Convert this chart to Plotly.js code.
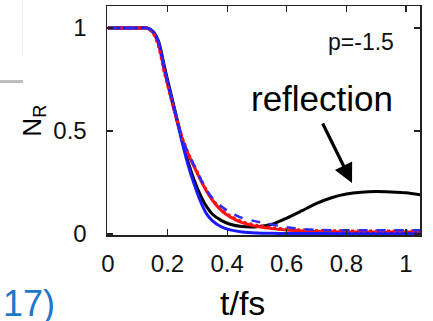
<!DOCTYPE html>
<html>
<head>
<meta charset="utf-8">
<script src="https://cdn.plot.ly/plotly-3.0.1.min.js"></script>
<style>
  html, body { margin: 0; padding: 0; background: #fff; }
  #chart { width: 433px; height: 321px; }
</style>
</head>
<body>
<div id="chart"></div>
<script>
// time axis (fs)
const t = [0, 0.05, 0.1, 0.13, 0.15, 0.17, 0.19, 0.21, 0.23, 0.25, 0.27, 0.29, 0.31, 0.33, 0.35,
           0.38, 0.41, 0.45, 0.5, 0.55, 0.6, 0.65, 0.7, 0.75, 0.8, 0.85, 0.9, 0.95, 1.0, 1.05];

// reflected population N_R for each model
const nBlack = [1, 1, 1, 1, 0.985, 0.935, 0.81, 0.69, 0.57, 0.45, 0.345, 0.26, 0.19, 0.135, 0.097,
                0.066, 0.047, 0.036, 0.035, 0.047, 0.077, 0.112, 0.148, 0.176, 0.194, 0.203, 0.206, 0.204, 0.2, 0.19];
const nBlue  = [1, 1, 1, 1, 0.985, 0.93, 0.8, 0.68, 0.56, 0.44, 0.33, 0.24, 0.16, 0.1, 0.065,
                0.035, 0.02, 0.01, 0.005, 0.003, 0.002, 0.002, 0.002, 0.002, 0.002, 0.002, 0.002, 0.002, 0.002, 0.002];
const nRed   = [1, 1, 1, 1, 0.98, 0.92, 0.79, 0.67, 0.56, 0.46, 0.385, 0.325, 0.265, 0.21, 0.165,
                0.115, 0.083, 0.055, 0.037, 0.026, 0.019, 0.015, 0.012, 0.011, 0.01, 0.01, 0.01, 0.01, 0.01, 0.01];
const nRedDot  = [1, 1, 1, 1, 0.98, 0.91, 0.78, 0.67, 0.56, 0.465, 0.39, 0.33, 0.27, 0.215, 0.17,
                  0.12, 0.088, 0.06, 0.042, 0.031, 0.023, 0.019, 0.017, 0.016, 0.015, 0.015, 0.015, 0.015, 0.015, 0.015];
const nBlueDash = [1, 1, 1, 1, 0.985, 0.93, 0.8, 0.68, 0.57, 0.46, 0.39, 0.33, 0.27, 0.215, 0.175,
                   0.135, 0.105, 0.078, 0.06, 0.046, 0.033, 0.024, 0.02, 0.018, 0.018, 0.018, 0.018, 0.018, 0.018, 0.018];

const xTicks = [0, 0.2, 0.4, 0.6, 0.8, 1];
const xTickText = ['0', '0.2', '0.4', '0.6', '0.8', '1'];
const yTicks = [0, 0.5, 1];
const yTickText = ['0', '0.5', '1'];

const FONT = 'Liberation Sans, Arial, sans-serif';

function line(y, color, width, dash) {
  return { x: t, y: y, type: 'scatter', mode: 'lines',
           line: { color: color, width: width, dash: dash || 'solid', shape: 'spline', smoothing: 0.7 },
           hoverinfo: 'skip', showlegend: false };
}

const traces = [
  line(nBlack, '#000000', 3),
  line(nRed, '#ff1010', 3),
  line(nBlue, '#1a1aff', 3),
  line(nRedDot, '#ff1010', 3, 'dot'),
  line(nBlueDash, '#2a2aff', 2.5, 'dash')
];

const axisCommon = {
  showline: true, linecolor: '#222', linewidth: 1.5, mirror: 'ticks',
  ticks: 'inside', ticklen: 6, tickwidth: 1.2, tickcolor: '#222',
  showgrid: false, zeroline: false,
  tickfont: { family: FONT, size: 24, color: '#111' }
};

const layout = {
  width: 433, height: 321,
  margin: { l: 107, r: 13, t: 6, b: 86 },
  paper_bgcolor: '#fff', plot_bgcolor: '#fff',
  xaxis: Object.assign({}, axisCommon, {
    range: [-0.003, 1.047], tickvals: xTicks, ticktext: xTickText, ticklabelstandoff: 7
  }),
  yaxis: Object.assign({}, axisCommon, {
    range: [-0.005, 1.107], tickvals: yTicks, ticktext: yTickText, ticklabelstandoff: 14
  }),
  annotations: [
    { xref: 'paper', yref: 'paper', x: 0.81, y: 0.842, xanchor: 'center', yanchor: 'middle',
      text: 'p=-1.5', showarrow: false, font: { family: FONT, size: 23, color: '#111' } },
    { xref: 'paper', yref: 'paper', x: 0.686, y: 0.598, xanchor: 'center', yanchor: 'middle',
      text: 'reflection', showarrow: false, font: { family: FONT, size: 35, color: '#000' } },
    { xref: 'x', yref: 'y', axref: 'x', ayref: 'y', x: 0.819, y: 0.248, ax: 0.718, ay: 0.544,
      text: '', showarrow: true, arrowhead: 2, arrowsize: 1.2, arrowwidth: 3.2, arrowcolor: '#000' },
    { xref: 'paper', yref: 'paper', x: -0.236, y: 0.5, xanchor: 'center', yanchor: 'middle',
      text: 'N<sub>R</sub>', textangle: -90, showarrow: false,
      font: { family: FONT, size: 26, color: '#000' } },
    { xref: 'paper', yref: 'paper', x: 0.434, y: -0.296, xanchor: 'center', yanchor: 'middle',
      text: 't/fs', showarrow: false, font: { family: FONT, size: 34, color: '#000' } },
    { xref: 'paper', yref: 'paper', x: -0.16, y: -0.3, xanchor: 'right', yanchor: 'middle',
      text: '17)', showarrow: false, font: { family: FONT, size: 36, color: '#1f78c8' } }
  ],
  shapes: [
    { type: 'line', xref: 'paper', yref: 'paper', x0: -0.345, x1: -0.268, y0: 0.67, y1: 0.67,
      line: { color: '#bdbdbd', width: 3 } },
    { type: 'line', xref: 'paper', yref: 'paper', x0: -0.27, x1: -0.27, y0: 0.78, y1: 1.03,
      line: { color: '#f0f0f0', width: 1 } }
  ]
};

Plotly.newPlot('chart', traces, layout, { staticPlot: true, displayModeBar: false });
</script>
</body>
</html>
